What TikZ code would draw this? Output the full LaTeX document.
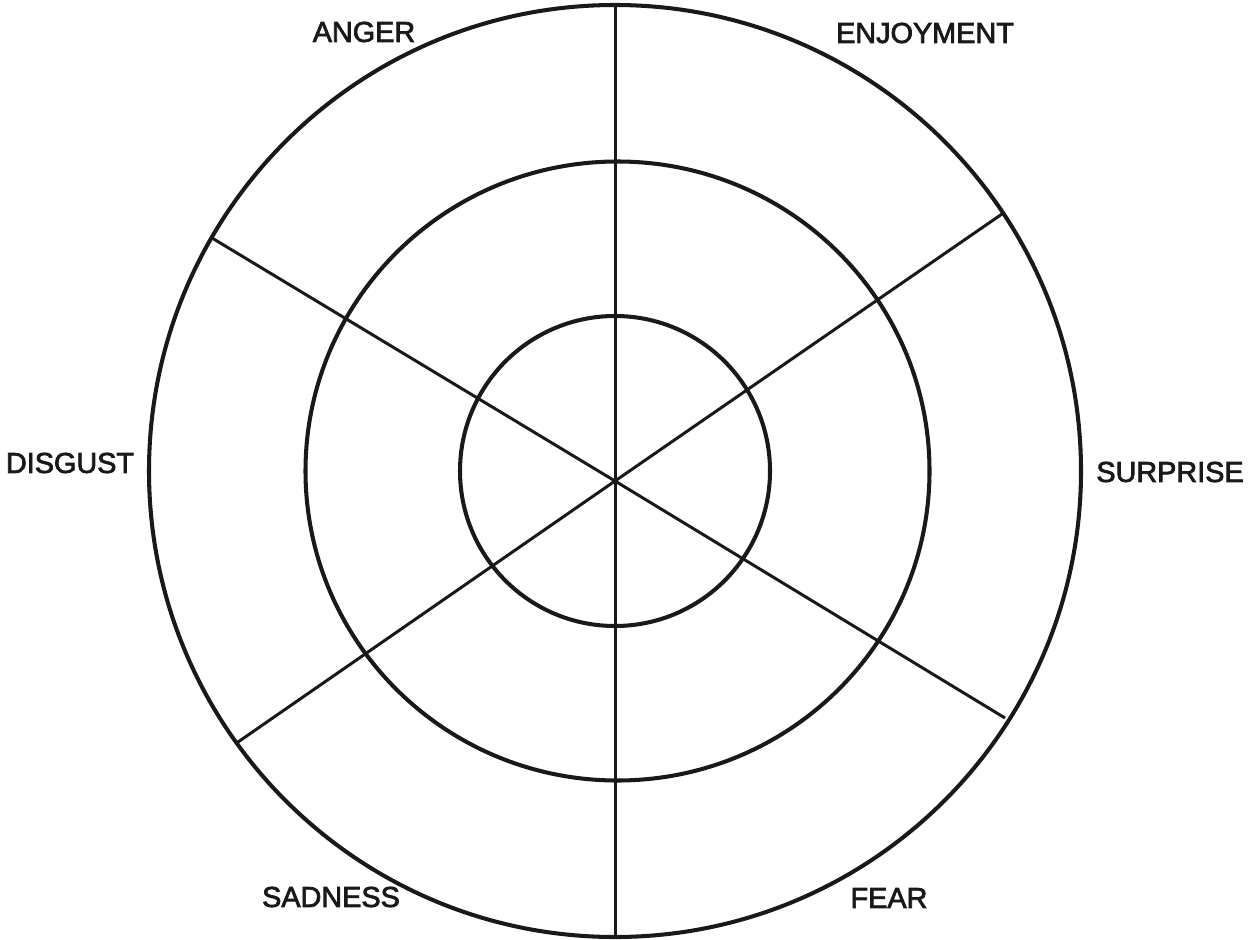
\documentclass[tikz,border=0pt]{standalone}
\usepackage{fontspec}
\setmainfont{Liberation Sans}[FakeBold=2.5]
\usepackage{tikz}

\begin{document}
\begin{tikzpicture}[x=0.02cm, y=-0.02cm,
    ring/.style={draw=black!90, line width=2.3pt},
    spoke/.style={draw=black!90, line width=1.7pt},
    emo/.style={font=\fontsize{16.4}{19}\selectfont, text=black!90, inner sep=0pt}]
  \useasboundingbox (0, 0) rectangle (1253, 939);
  \coordinate (mid) at (615, 471);
  \coordinate (hub) at (615, 481);
  \draw[ring] (mid) circle (466);
  \draw[ring] (617.5, 471) ellipse (312 and 309.5);
  \draw[ring] (mid) circle (155);
  \coordinate (top) at (615, 5);
  \coordinate (bot) at (615, 937);
  \coordinate (nw) at (212, 238);
  \coordinate (se) at (1005, 718);
  \coordinate (ne) at (1002, 214);
  \coordinate (sw) at (238, 742);
  \draw[spoke] (top) -- (bot);
  \draw[spoke] (nw) -- (hub) -- (se);
  \draw[spoke] (ne) -- (hub) -- (sw);
  \node[emo] (anger) at (364, 32) {ANGER};
  \node[emo] (enjoy) at (925, 33) {ENJOYMENT};
  \node[emo] (surprise) at (1170, 472) {SURPRISE};
  \node[emo] (disgust) at (70, 463) {DISGUST};
  \node[emo] (sadness) at (331, 897) {SADNESS};
  \node[emo] (fear) at (889, 898) {FEAR};
\end{tikzpicture}
\end{document}
